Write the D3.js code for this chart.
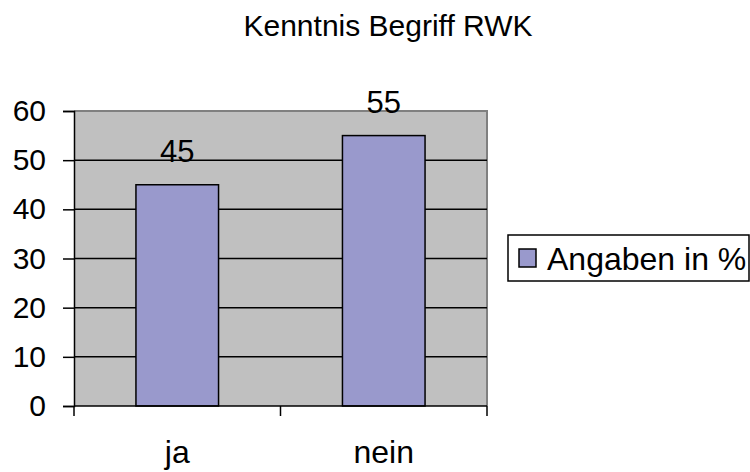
<!DOCTYPE html>
<html>
<head>
<meta charset="utf-8">
<script src="https://cdn.jsdelivr.net/npm/d3@7"></script>
<style>
    body { margin: 0; background: #ffffff; }
    svg { display: block; font-family: "Liberation Sans", Arial, sans-serif; }
</style>
</head>
<body>
<svg width="750" height="472"></svg>
<script>
// chart data
const categories = ['ja', 'nein'];
const values = [45, 55];
const yTicks = [0, 10, 20, 30, 40, 50, 60];
const seriesName = 'Angaben in %';
const chartTitle = 'Kenntnis Begriff RWK';

const svg = d3.select('svg'),
    margin = {
        top: 111,
        right: 263,
        bottom: 66,
        left: 74
    },
    width = +svg.attr('width'),
    height = +svg.attr('height'),
    barColor = '#9999cc';

const x = d3.scaleBand()
    .domain(categories)
    .range([margin.left, width - margin.right])
    .paddingInner(0.6)
    .paddingOuter(0.3);

const y = d3.scaleLinear()
    .domain([0, 60])
    .range([height - margin.bottom, margin.top]);

// plot background
svg.append('rect')
    .attr('x', margin.left)
    .attr('y', margin.top)
    .attr('width', width - margin.right - margin.left)
    .attr('height', height - margin.bottom - margin.top)
    .attr('fill', '#c0c0c0');

// top and right border
svg.append('path')
    .attr('d', 'M' + margin.left + ',' + y(60) + 'H' + (width - margin.right) + 'V' + y(0))
    .attr('fill', 'none')
    .attr('stroke', '#808080')
    .attr('stroke-width', 2);

// grid lines
svg.append('g')
    .selectAll('line')
    .data(yTicks.filter(function (d) {
        return d > 0 && d < 60;
    }))
    .enter().append('line')
    .attr('x1', margin.left)
    .attr('x2', width - margin.right)
    .attr('y1', function (d) { return y(d); })
    .attr('y2', function (d) { return y(d); })
    .attr('stroke', '#000')
    .attr('stroke-width', 1.5);

// bars
svg.append('g')
    .selectAll('rect')
    .data(values)
    .enter().append('rect')
    .attr('x', function (d, i) { return x(categories[i]); })
    .attr('y', function (d) { return y(d); })
    .attr('width', x.bandwidth())
    .attr('height', function (d) { return y(0) - y(d); })
    .attr('fill', barColor)
    .attr('stroke', '#000')
    .attr('stroke-width', 1.5);

// value labels
svg.append('g')
    .selectAll('text')
    .data(values)
    .enter().append('text')
    .attr('x', function (d, i) { return x(categories[i]) + x.bandwidth() / 2; })
    .attr('y', function (d) { return y(d) - 23; })
    .attr('text-anchor', 'middle')
    .attr('font-size', 31)
    .text(function (d) { return d; });

// y axis
const yAxis = svg.append('g')
    .attr('transform', 'translate(' + margin.left + ',0)')
    .call(d3.axisLeft(y).tickValues(yTicks).tickSize(11).tickPadding(17));
yAxis.attr('font-size', null).attr('font-family', null);
yAxis.selectAll('text').attr('font-size', 30).attr('fill', '#000');
yAxis.selectAll('line, path').attr('stroke', '#000').attr('stroke-width', 1.5);

// x axis: ticks sit on the band edges, labels on the band centers
const xAxis = svg.append('g')
    .attr('transform', 'translate(0,' + y(0) + ')');
xAxis.append('line')
    .attr('x1', margin.left)
    .attr('x2', width - margin.right)
    .attr('stroke', '#000')
    .attr('stroke-width', 1.5);
const edges = [margin.left].concat(categories.map(function (c) {
    return x(c) + x.bandwidth() / 2 + x.step() / 2;
}));
xAxis.selectAll('.tick')
    .data(edges)
    .enter().append('line')
    .attr('x1', function (d) { return d; })
    .attr('x2', function (d) { return d; })
    .attr('y1', 0)
    .attr('y2', 10)
    .attr('stroke', '#000')
    .attr('stroke-width', 1.5);
xAxis.selectAll('text')
    .data(categories)
    .enter().append('text')
    .attr('x', function (d) { return x(d) + x.bandwidth() / 2; })
    .attr('y', 57)
    .attr('text-anchor', 'middle')
    .attr('font-size', 32)
    .text(function (d) { return d; });

// title
svg.append('text')
    .attr('x', 388)
    .attr('y', 36)
    .attr('text-anchor', 'middle')
    .attr('font-size', 30)
    .text(chartTitle);

// legend
const legend = svg.append('g')
    .attr('transform', 'translate(508,235)');
legend.append('rect')
    .attr('width', 241)
    .attr('height', 46)
    .attr('fill', '#fff')
    .attr('stroke', '#000')
    .attr('stroke-width', 1.5);
legend.append('rect')
    .attr('x', 11)
    .attr('y', 14)
    .attr('width', 17)
    .attr('height', 18)
    .attr('fill', barColor)
    .attr('stroke', '#000')
    .attr('stroke-width', 1.5);
legend.append('text')
    .attr('x', 39)
    .attr('y', 35)
    .attr('font-size', 32)
    .text(seriesName);
</script>
</body>
</html>
